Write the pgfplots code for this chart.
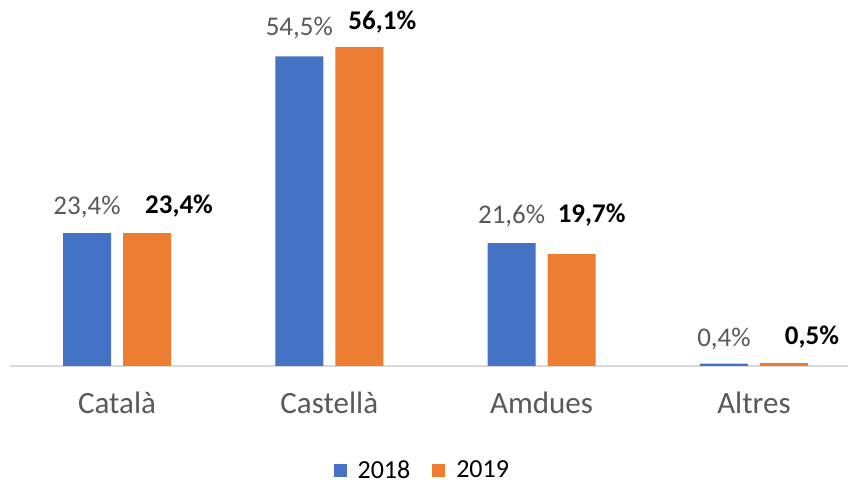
\documentclass[border=0pt]{standalone}
\usepackage{pgfplots}
\pgfplotsset{compat=1.18}
\usepackage{pgfplotstable}
\usepackage{fontspec}
\setmainfont{Carlito}
\definecolor{serA}{HTML}{4472C4}
\definecolor{serB}{HTML}{ED7D31}
\definecolor{txtgray}{HTML}{595959}
\definecolor{basegray}{HTML}{D9D9D9}

% x  y  label  dx dy (label offsets, pt)
\pgfplotstableread{
x y lbl dx dy
0 23.4 23,4 0 26
1 54.5 54,5 0 28
2 21.6 21,6 0 27
3 0.4 0,4 0 25
}\dataA
\pgfplotstableread{
x y lbl dx dy
0 23.4 23,4 32 27
1 56.1 56,1 23 25
2 19.7 19,7 20 39
3 0.5 0,5 28 26
}\dataB

\begin{document}
\begin{tikzpicture}
\path[use as bounding box] (-10pt,-120pt) rectangle (843pt,366pt);
\begin{axis}[
    anchor=south west, at={(0,0)},
    scale only axis, width=838pt, height=341pt,
    ybar=12pt, bar width=48pt,
    xmin=-0.504, xmax=3.443, ymin=0, ymax=60,
    axis y line=none, axis x line*=bottom,
    x axis line style={basegray, line width=1.5pt, -},
    xtick={0,1,2,3}, xticklabels={Català,Castellà,Amdues,Altres},
    major tick length=0pt,
    xticklabel style={font=\fontsize{31}{36}\selectfont, text=txtgray, yshift=-22pt},
    point meta=explicit symbolic,
    nodes near coords={\pgfplotspointmeta\%},
    visualization depends on={\thisrow{dx} \as \dx},
    visualization depends on={\thisrow{dy} \as \dy},
    every node near coord/.append style={anchor=center, xshift=\dx pt, yshift=\dy pt, inner sep=0pt},
    legend style={draw=none, at={(0.492,-0.305)}, anchor=center, inner sep=0pt,
        font=\fontsize{26}{31}\selectfont, legend columns=2,
        nodes={inner sep=2pt},
        /tikz/every even column/.append style={column sep=20pt}},
    legend image code/.code={\fill[#1] (0pt,-6.5pt) rectangle (13pt,6.5pt);
        \path (0pt,0pt) rectangle (22pt,0pt);},
]
\addplot[fill=serA, draw=none,
    every node near coord/.append style={font=\fontsize{27}{32}\selectfont, text=txtgray}]
    table[x=x, y=y, meta=lbl] {\dataA};
\addplot[fill=serB, draw=none,
    every node near coord/.append style={font=\fontsize{27}{32}\selectfont\bfseries, text=black}]
    table[x=x, y=y, meta=lbl] {\dataB};
\legend{2018,2019}
\end{axis}
\end{tikzpicture}
\end{document}
